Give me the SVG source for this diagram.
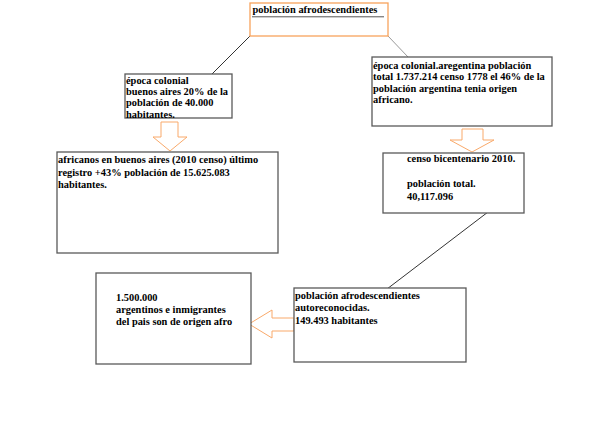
<svg xmlns="http://www.w3.org/2000/svg" width="606" height="433" viewBox="0 0 606 433">
<style>
.box{fill:#fff;stroke:#595959;stroke-width:1.3}
.tbox{fill:#fff;stroke:#f7a35c;stroke-width:1.3}
.arr{fill:#fff;stroke:#f9a96a;stroke-width:1}
.t{font-family:"Liberation Serif","Times New Roman",serif;font-weight:bold;font-size:10.4px;fill:#000}
.ln{fill:none;stroke-width:1}
</style>
<rect width="606" height="433" fill="#fff"/>
<g id="connectors">
<line class="ln" x1="250" y1="36" x2="212" y2="74" stroke="#333"/>
<line class="ln" x1="388" y1="36" x2="408" y2="57" stroke="#999"/>
<line class="ln" x1="488" y1="212" x2="387" y2="289" stroke="#333"/>
<polygon class="arr" points="161,122 178,122 178,137 187,137 170,151 153,137 161,137"/>
<polygon class="arr" points="462,129 483,129 483,140 494,140 472,152 450,140 462,140"/>
<polygon class="arr" points="294,318 272,318 272,310 249,324 272,338 272,331 294,331"/>
</g>
<g id="title">
<rect class="tbox" x="250" y="3" width="138" height="33"/>
<text class="t" x="252.5" y="13.3">población afrodescendientes</text>
<line x1="252" y1="16.8" x2="384" y2="16.8" stroke="#555" stroke-width="1"/>
</g>
<g id="epoca-colonial">
<rect class="box" x="125" y="74" width="107" height="44"/>
<text class="t" x="126" y="84.3">época colonial</text>
<text class="t" x="126" y="94.5">buenos aires 20% de la</text>
<text class="t" x="126" y="106">población de 40.000</text>
<text class="t" x="126" y="118">habitantes.</text>
</g>
<g id="epoca-colonial-argentina">
<rect class="box" x="372" y="57" width="180" height="69"/>
<text class="t" x="373" y="68.5">época colonial.aregentina población</text>
<text class="t" x="373" y="80">total 1.737.214 censo 1778 el 46% de la</text>
<text class="t" x="373" y="91.5">población argentina tenia origen</text>
<text class="t" x="373" y="103">africano.</text>
</g>
<g id="africanos">
<rect class="box" x="57" y="152" width="221" height="101"/>
<text class="t" x="58" y="163">africanos en buenos aires (2010 censo) último</text>
<text class="t" x="58" y="175.5">registro +43% población de 15.625.083</text>
<text class="t" x="58" y="188">habitantes.</text>
</g>
<g id="censo">
<rect class="box" x="383" y="153" width="141" height="60"/>
<text class="t" x="407" y="162">censo bicentenario 2010.</text>
<text class="t" x="407" y="187">población total.</text>
<text class="t" x="407" y="199.5">40,117.096</text>
</g>
<g id="origen-afro">
<rect class="box" x="96" y="273" width="155" height="91"/>
<text class="t" x="116" y="301">1.500.000</text>
<text class="t" x="116" y="313">argentinos e inmigrantes</text>
<text class="t" x="116" y="325">del pais son de origen afro</text>
</g>
<g id="autoreconocidas">
<rect class="box" x="294" y="288" width="172" height="74"/>
<text class="t" x="295" y="298.5">población afrodescendientes</text>
<text class="t" x="295" y="311">autoreconocidas.</text>
<text class="t" x="295" y="323.5">149.493 habitantes</text>
</g>
</svg>
